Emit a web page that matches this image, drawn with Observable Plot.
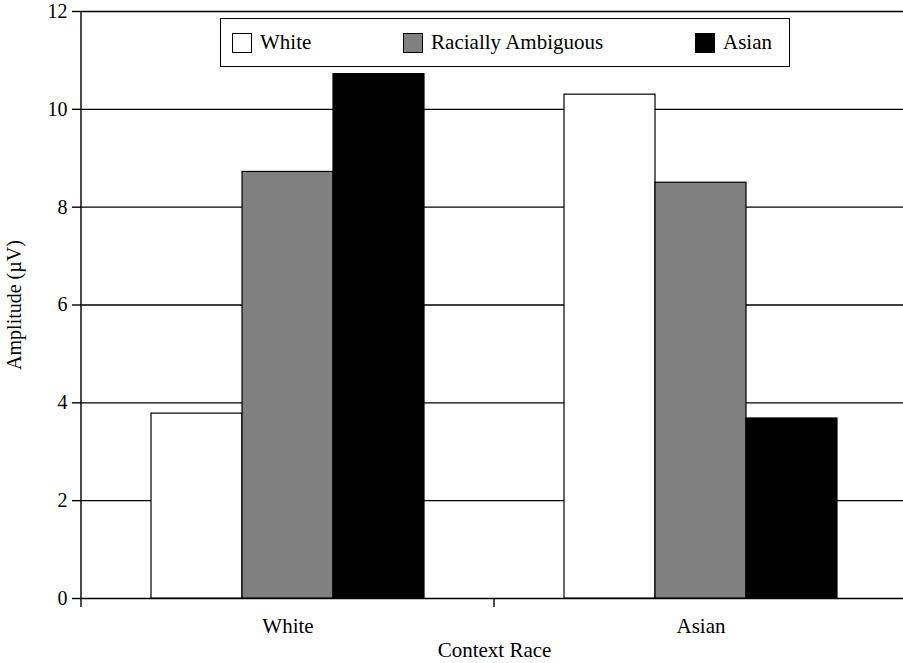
<!DOCTYPE html>
<html>
<head>
<meta charset="utf-8">
<script src="https://cdn.jsdelivr.net/npm/d3@7"></script>
<script src="https://cdn.jsdelivr.net/npm/@observablehq/plot@0.6"></script>
<style>
  html, body { margin: 0; padding: 0; background: #fff; overflow: hidden; }
  #chart { position: relative; width: 903px; height: 663px; overflow: hidden; font-family: "Liberation Serif", serif; }
  #chart svg { max-width: none !important; display: block; }
  #legend {
    position: absolute; left: 220px; top: 18px; width: 570px; height: 49px;
    box-sizing: border-box; border: 1.5px solid #000; background: #fff;
    display: flex; align-items: center; justify-content: space-between;
    padding: 0 17px 0 11px; font-size: 21px; color: #000;
  }
  #legend .item { display: flex; align-items: center; }
  #legend .sw { width: 20px; height: 20px; box-sizing: border-box; border: 1.5px solid #000; margin-right: 8px; }
</style>
</head>
<body>
<div id="chart"></div>
<script>
// ---- data ----
const contexts = ["White", "Asian"];                 // x-axis categories (Context Race)
const stimuli = ["White", "Racially Ambiguous", "Asian"]; // legend series
const whiteContext = [3.78, 8.72, 10.72];             // values in White context
const asianContext = [10.30, 8.50, 3.68];             // values in Asian context
const seriesColors = ["#ffffff", "#808080", "#000000"];
const yTicks = [0, 2, 4, 6, 8, 10, 12];

const valuesByContext = [whiteContext, asianContext];
const data = [];
contexts.forEach((c, i) => stimuli.forEach((s, j) => data.push({context: c, stimulus: s, value: valuesByContext[i][j]})));

const W = 907, H = 663;
const plot = Plot.plot({
  width: W, height: H,
  marginLeft: 81, marginRight: 0, marginTop: 11, marginBottom: 65,
  style: {fontFamily: "Liberation Serif", fontSize: "21px", color: "#000", background: "#fff"},
  fx: {domain: contexts, padding: 0},
  x: {domain: stimuli, paddingInner: 0, paddingOuter: 0.745, axis: null},
  y: {domain: [0, 12]},
  color: {domain: stimuli, range: seriesColors},
  marks: [
    Plot.gridY(yTicks, {stroke: "#000", strokeOpacity: 1, strokeWidth: 1.4}),
    Plot.barY(data, {fx: "context", x: "stimulus", y: "value", fill: "stimulus", stroke: "#000", strokeWidth: 1.2}),
    Plot.axisY(yTicks, {tickSize: 9, tickPadding: 5, fontSize: 20, strokeWidth: 1.4,
      label: "Amplitude (µV)", labelArrow: "none", labelAnchor: "center", labelOffset: 75}),
    Plot.axisFx({anchor: "bottom", tickSize: 0, tickPadding: 20, fontSize: 21,
      label: "Context Race", labelArrow: "none", labelAnchor: "center", labelOffset: 58})
  ]
});

// y-axis domain line and band-boundary ticks, from the plot's own scales
const fx = plot.scale("fx"), y = plot.scale("y");
const svg = d3.select(plot);
const x0 = fx.range[0];
const yTop = y.apply(12), yZero = y.apply(0);
const step = fx.step ?? fx.bandwidth;
const g = svg.append("g").attr("stroke", "#000").attr("stroke-width", 1.4);
g.append("line").attr("x1", x0).attr("x2", x0).attr("y1", yTop).attr("y2", yZero);
for (let i = 0; i <= contexts.length; i++) {
  const xx = x0 + i * step;
  g.append("line").attr("x1", xx).attr("x2", xx).attr("y1", yZero).attr("y2", yZero + 9);
}
// strip any arrow glyph Plot may add to axis labels
svg.selectAll("text").each(function() {
  const t = d3.select(this);
  if (/[↑→←↓]/.test(t.text())) t.text(t.text().replace(/\s*[↑→←↓]\s*/g, ""));
});

const chart = document.getElementById("chart");
chart.appendChild(plot);

// legend
const legend = document.createElement("div");
legend.id = "legend";
stimuli.forEach((s, j) => {
  const it = document.createElement("div"); it.className = "item";
  const sw = document.createElement("div"); sw.className = "sw"; sw.style.background = seriesColors[j];
  const tx = document.createElement("span"); tx.textContent = s;
  it.appendChild(sw); it.appendChild(tx); legend.appendChild(it);
});
chart.appendChild(legend);
</script>
</body>
</html>
